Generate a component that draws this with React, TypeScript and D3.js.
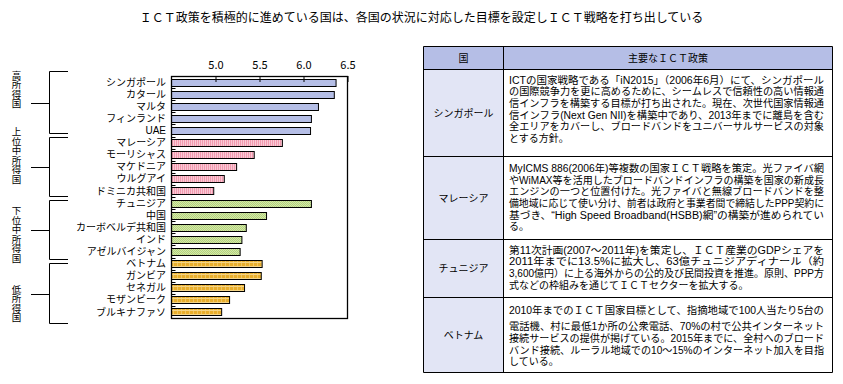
import React, { useEffect, useRef } from 'react';
import * as d3 from 'd3';

const titleText = 'ＩＣＴ政策を積極的に進めている国は、各国の状況に対応した目標を設定しＩＣＴ戦略を打ち出している';

const countries = [
  'シンガポール', 'カタール', 'マルタ', 'フィンランド', 'UAE',
  'マレーシア', 'モーリシャス', 'マケドニア', 'ウルグアイ', 'ドミニカ共和国',
  'チュニジア', '中国', 'カーボベルデ共和国', 'インド', 'アゼルバイジャン',
  'ベトナム', 'ガンビア', 'セネガル', 'モザンビーク', 'ブルキナファソ'
];
const scores = [
  6.37, 6.35, 6.17, 6.09, 6.08,
  5.76, 5.44, 5.24, 5.10, 4.98,
  6.09, 5.58, 5.35, 5.30, 5.28,
  5.53, 5.52, 5.33, 5.16, 5.07
];
const groupNames = ['高所得国', '上位中所得国', '下位中所得国', '低所得国'];
const groupSizes = [5, 5, 5, 5];
const axisTicks = [5.0, 5.5, 6.0, 6.5];

const tableHeader = ['国', '主要なＩＣＴ政策'];
const tableCountries = ['シンガポール', 'マレーシア', 'チュニジア', 'ベトナム'];
const policyLines = [
  [
    'ICTの国家戦略である「iN2015」（2006年6月）にて、シンガポール',
    'の国際競争力を更に高めるために、シームレスで信頼性の高い情報通',
    '信インフラを構築する目標が打ち出された。現在、次世代国家情報通',
    '信インフラ(Next Gen NII)を構築中であり、2013年までに離島を含む',
    '全エリアをカバーし、ブロードバンドをユニバーサルサービスの対象',
    'とする方針。'
  ],
  [
    'MyICMS 886(2006年)等複数の国家ＩＣＴ戦略を策定。光ファイバ網',
    'やWiMAX等を活用したブロードバンドインフラの構築を国家の新成長',
    'エンジンの一つと位置付けた。光ファイバと無線ブロードバンドを整',
    '備地域に応じて使い分け、前者は政府と事業者間で締結したPPP契約に',
    '基づき、“High Speed Broadband(HSBB)網”の構築が進められてい',
    'る。'
  ],
  [
    '第11次計画(2007～2011年)を策定し、ＩＣＴ産業のGDPシェアを',
    '2011年までに13.5%に拡大し、63億チュニジアディナール（約',
    '3,600億円）に上る海外からの公的及び民間投資を推進。原則、PPP方',
    '式などの枠組みを通じてＩＣＴセクターを拡大する。'
  ],
  [
    '2010年までのＩＣＴ国家目標として、指摘地域で100人当たり5台の',
    '電話機、村に最低1か所の公衆電話、70%の村で公共インターネット',
    '接続サービスの提供が掲げている。2015年までに、全村へのブロード',
    'バンド接続、ルーラル地域での10～15%のインターネット加入を目指',
    'している。'
  ]
];

const FONT = '"Noto Sans CJK JP", "Noto Sans", sans-serif';
const BODY_FONT = '"Liberation Sans", "Noto Sans CJK JP", sans-serif';

const App = () => {
  const svgRef = useRef<SVGSVGElement>(null);

  useEffect(() => {
    const w = 843;
    const h = 384;
    const svg = d3.select(svgRef.current).attr('width', w).attr('height', h);
    svg.selectAll('*').remove();

    const fills = ['#b5bee6', 'url(#pk)', 'url(#gr)', 'url(#og)'];

    // patterns for bar fills
    const defs = svg.append('defs');
    const pk = defs.append('pattern').attr('id', 'pk').attr('patternUnits', 'userSpaceOnUse')
      .attr('width', 2).attr('height', 2);
    pk.append('rect').attr('width', 2).attr('height', 2).attr('fill', '#f9c9d4');
    pk.append('rect').attr('width', 1).attr('height', 2).attr('fill', '#f29ab0');
    const gr = defs.append('pattern').attr('id', 'gr').attr('patternUnits', 'userSpaceOnUse')
      .attr('width', 2).attr('height', 2);
    gr.append('rect').attr('width', 2).attr('height', 2).attr('fill', '#d3e7a8');
    gr.append('rect').attr('width', 1).attr('height', 1).attr('fill', '#b4d47e');
    gr.append('rect').attr('x', 1).attr('y', 1).attr('width', 1).attr('height', 1).attr('fill', '#b4d47e');
    const og = defs.append('pattern').attr('id', 'og').attr('patternUnits', 'userSpaceOnUse')
      .attr('width', 4).attr('height', 4);
    og.append('rect').attr('width', 4).attr('height', 4).attr('fill', '#e8ae2c');
    og.append('rect').attr('x', 1).attr('width', 1).attr('height', 4).attr('fill', '#f0c664');
    og.append('rect').attr('y', 2).attr('width', 4).attr('height', 1).attr('fill', '#f4d486');

    // title
    svg.append('text')
      .attr('x', 421.5).attr('y', 21.5)
      .attr('text-anchor', 'middle')
      .attr('font-family', FONT).attr('font-size', 12)
      .text(titleText);

    // chart
    const left = 171.5, right = 347.5, top = 76, bottom = 318;
    const xScale = d3.scaleLinear().domain([4.5, 6.5]).range([left, right]);
    const yScale = d3.scaleBand<string>().domain(countries).range([top, bottom])
      .paddingInner(0.42).paddingOuter(0.21);

    const cum = [0];
    groupSizes.forEach((s) => cum.push(cum[cum.length - 1] + s));
    const groupOf = (i: number) => cum.findIndex((c, k) => k > 0 && i < c) - 1;

    svg.selectAll('rect.bar')
      .data(countries)
      .enter()
      .append('rect')
      .attr('class', 'bar')
      .attr('x', xScale(4.5))
      .attr('y', (d) => Math.round(yScale(d)!) + 0.5)
      .attr('width', (d, i) => xScale(scores[i]) - xScale(4.5))
      .attr('height', Math.round(yScale.bandwidth()))
      .attr('fill', (d, i) => fills[groupOf(i)])
      .attr('stroke', '#000')
      .attr('stroke-width', 1);

    // category ticks between bars
    const tickY = (d: string) => Math.round(yScale(d)! + yScale.bandwidth() + yScale.step() * 0.21) + 0.5;
    svg.selectAll('line.ctick')
      .data(countries.slice(0, -1))
      .enter()
      .append('line')
      .attr('class', 'ctick')
      .attr('x1', left).attr('x2', left + 4)
      .attr('y1', tickY)
      .attr('y2', tickY)
      .attr('stroke', '#000');

    svg.append('rect')
      .attr('x', left).attr('y', top + 0.5)
      .attr('width', right - left).attr('height', bottom - top)
      .attr('fill', 'none').attr('stroke', '#000').attr('stroke-width', 1.3);

    const xAxis = d3.axisTop(xScale)
      .tickValues(axisTicks)
      .tickFormat(d3.format('.1f'))
      .tickSizeInner(-6)
      .tickSizeOuter(0)
      .tickPadding(7);
    const ax = svg.append('g').attr('transform', `translate(0,${top})`).call(xAxis);
    ax.select('.domain').remove();
    ax.selectAll('line').attr('stroke', '#000');
    ax.selectAll('text').attr('font-family', FONT).attr('font-size', 11).attr('fill', '#000');

    // category labels
    svg.selectAll('text.cat')
      .data(countries)
      .enter()
      .append('text')
      .attr('class', 'cat')
      .attr('x', 166)
      .attr('y', (d) => yScale(d)! + yScale.bandwidth() / 2)
      .attr('dy', '0.36em')
      .attr('text-anchor', 'end')
      .attr('font-family', BODY_FONT).attr('font-size', 10)
      .text((d) => d);

    // group brackets with vertical labels
    const bs = d3.scaleLinear().domain([0, 20]).range([71, 323]);
    const labelShift = [-14, -12, 4, 9];
    groupNames.forEach((name, g) => {
      const t = Math.round(bs(cum[g]) + (g > 0 ? 3 : 0)) + 0.5;
      const b = Math.round(bs(cum[g + 1]) - (g < 3 ? 1 : 0)) + 0.5;
      const mid = Math.round((t + b) / 2) + 0.5;
      svg.append('path')
        .attr('d', `M68,${t}H49.5V${b}H68M31,${mid}H49.5`)
        .attr('fill', 'none').attr('stroke', '#000');
      svg.append('text')
        .attr('x', 16.5)
        .attr('y', mid + labelShift[g])
        .attr('writing-mode', 'vertical-rl')
        .attr('text-anchor', 'middle')
        .attr('font-family', FONT).attr('font-size', 9.5)
        .text(name);
    });

    // table
    const tx0 = 423.5, txDiv = 503.5, tx1 = 832.5;
    const rows = [46.5, 69.5, 156.5, 239.5, 297.5, 372.5];
    const firstLine = [10.5, 11.8, 10.5, 12.5];
    const gapAfterFirst = [0, 0, 0, 5];
    const tbl = svg.append('g');
    tbl.append('rect').attr('x', tx0).attr('y', rows[0]).attr('width', tx1 - tx0)
      .attr('height', rows[1] - rows[0]).attr('fill', '#b5bee6');
    tbl.append('rect').attr('x', tx0).attr('y', rows[1]).attr('width', txDiv - tx0)
      .attr('height', rows[5] - rows[1]).attr('fill', '#e2e5f5');
    rows.forEach((ry) => {
      tbl.append('line').attr('x1', tx0).attr('x2', tx1).attr('y1', ry).attr('y2', ry).attr('stroke', '#000');
    });
    [tx0, txDiv, tx1].forEach((lx) => {
      tbl.append('line').attr('x1', lx).attr('x2', lx).attr('y1', rows[0]).attr('y2', rows[5]).attr('stroke', '#000');
    });
    tbl.selectAll('text.hd')
      .data(tableHeader)
      .enter()
      .append('text')
      .attr('class', 'hd')
      .attr('x', (d, i) => (i === 0 ? (tx0 + txDiv) / 2 : (txDiv + tx1) / 2))
      .attr('y', (rows[0] + rows[1]) / 2)
      .attr('dy', '0.36em')
      .attr('text-anchor', 'middle')
      .attr('font-family', FONT).attr('font-size', 10)
      .text((d) => d);
    tableCountries.forEach((name, r) => {
      tbl.append('text')
        .attr('x', (tx0 + txDiv) / 2)
        .attr('y', (rows[r + 1] + rows[r + 2]) / 2)
        .attr('dy', '0.36em')
        .attr('text-anchor', 'middle')
        .attr('font-family', FONT).attr('font-size', 10)
        .text(name);
      const lines = policyLines[r];
      const cell = tbl.append('text')
        .attr('font-family', BODY_FONT).attr('font-size', 10);
      lines.forEach((ln, i) => {
        const t = cell.append('tspan')
          .attr('x', 509)
          .attr('y', rows[r + 1] + firstLine[r] + 3.6 + i * 11.67 + (i > 0 ? gapAfterFirst[r] : 0))
          .text(ln);
        if (i < lines.length - 1) {
          t.attr('textLength', 315).attr('lengthAdjust', 'spacingAndGlyphs');
        }
      });
    });
  }, []);

  return (
    <div>
      <svg ref={svgRef} style={{ position: 'absolute', left: 0, top: 0 }}></svg>
    </div>
  );
};

export default App;
